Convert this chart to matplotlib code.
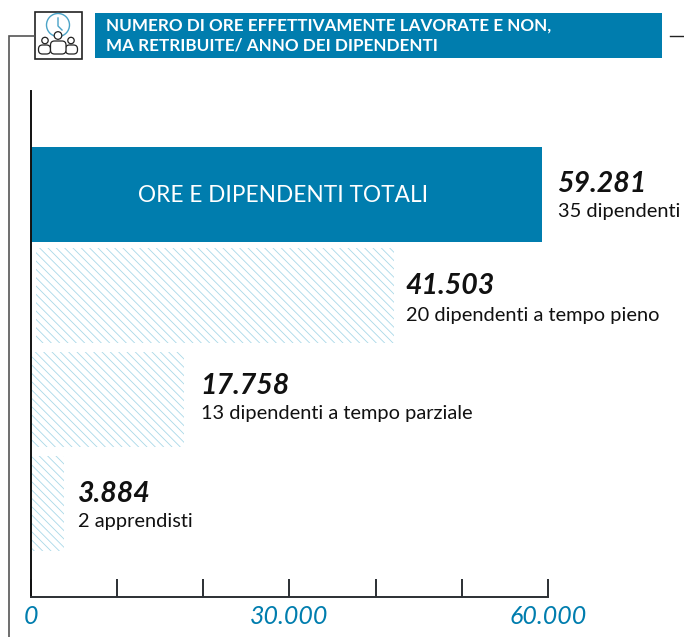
import matplotlib
matplotlib.use("Agg")
import matplotlib.pyplot as plt
from matplotlib.patches import Circle, FancyBboxPatch, Rectangle

W, H = 684, 637
BLUE = "#007dae"
HATCH = "#a9d8e8"
DARK = "#2b2f33"

plt.rcParams["font.family"] = ["Lato", "DejaVu Sans"]
plt.rcParams["hatch.linewidth"] = 0.6

# dati
ore = [59281, 41503, 17758, 3884]
ore_label = ["59.281", "41.503", "17.758", "3.884"]
dipendenti = ["35 dipendenti", "20 dipendenti a tempo pieno",
              "13 dipendenti a tempo parziale", "2 apprendisti"]
tick_vals = [0, 10000, 20000, 30000, 40000, 50000, 60000]
tick_labels = ["0", "", "", "30.000", "", "", "60.000"]
titolo = "NUMERO DI ORE EFFETTIVAMENTE LAVORATE E NON,\nMA RETRIBUITE/ ANNO DEI DIPENDENTI"

# layout in pixel
bar_y = [194.5, 295.5, 399.5, 503.5]
bar_left = [0, 640, 0, 0]
label_x = [557.5, 405.5, 200.5, 77.5]
label_y = [183.5, 286, 385.5, 494.5]
sub_y = [212, 315, 413, 522]

fig = plt.figure(figsize=(W / 100, H / 100), dpi=100)

# overlay in coordinate pixel per testata e cornice
bg = fig.add_axes([0, 0, 1, 1])
bg.set_xlim(0, W)
bg.set_ylim(H, 0)
bg.axis("off")

ax = fig.add_axes([30.5 / W, 1 - 597 / H, (548 - 30.5) / W, (597 - 91) / H])
ax.set_xlim(0, 60000)
ax.set_ylim(597, 91)
ax.patch.set_alpha(0)
for s in ("top", "right"):
    ax.spines[s].set_visible(False)
ax.spines["left"].set_linewidth(1.4)
ax.spines["left"].set_color("#111111")
ax.spines["bottom"].set_linewidth(1.4)
ax.spines["bottom"].set_color(DARK)

ax.barh(bar_y[0], ore[0], height=95, color=BLUE, linewidth=0)
for i in range(1, 4):
    ax.barh(bar_y[i], ore[i], left=bar_left[i], height=95, facecolor="white",
            edgecolor=HATCH, hatch="\\\\\\\\", linewidth=0)

ax.set_yticks([])
ax.set_xticks(tick_vals)
ax.set_xticklabels(tick_labels, fontsize=18, style="italic", color=BLUE)
ax.tick_params(axis="x", direction="in", length=13, width=1.4, color=DARK, pad=6)

ax.text(ore[0] / 2 - 300, bar_y[0] + 1, "ORE E DIPENDENTI TOTALI", color="white",
        fontsize=16.3, ha="center", va="center")

for i in range(4):
    bg.text(label_x[i], label_y[i], ore_label[i], fontsize=20.5, weight="bold",
            style="italic", color="#111111", va="center")
    bg.text(label_x[i] + 0.5, sub_y[i], dipendenti[i], fontsize=14.4, color="#111111", va="center")

# testata
bg.add_patch(Rectangle((95, 13), 567, 45, facecolor=BLUE, edgecolor="none"))
bg.text(106, 35.5, titolo, color="white", fontsize=12.35, weight="bold", va="center",
        linespacing=1.25)

# cornice
bg.plot([34, 8.5, 8.5], [36, 36, 637], color="#555555", lw=1.2, solid_joinstyle="miter")
bg.plot([670, 684], [36, 36], color="#222222", lw=1)

# icona
bg.add_patch(Rectangle((34.5, 12), 47, 47, facecolor="white", edgecolor="#222222", lw=1.2))
bg.add_patch(Circle((58, 25), 11.5, facecolor="none", edgecolor="#4aa3c7", lw=1))
bg.plot([58, 58, 62], [18, 26, 30], color="#4aa3c7", lw=1)
for cx, cy, r, x0, w, y0 in [(45, 40.5, 3.2, 38.5, 12, 45), (71, 40.5, 3.2, 65.5, 12, 45),
                             (58, 35.5, 3.8, 50.5, 15.5, 41)]:
    bg.add_patch(FancyBboxPatch((x0, y0), w, 54 - y0, boxstyle="round,pad=0,rounding_size=4",
                                facecolor="white", edgecolor="#222222", lw=0.9))
    bg.add_patch(Circle((cx, cy), r, facecolor="white", edgecolor="#222222", lw=0.9))

fig.savefig("out.png", dpi=100)
